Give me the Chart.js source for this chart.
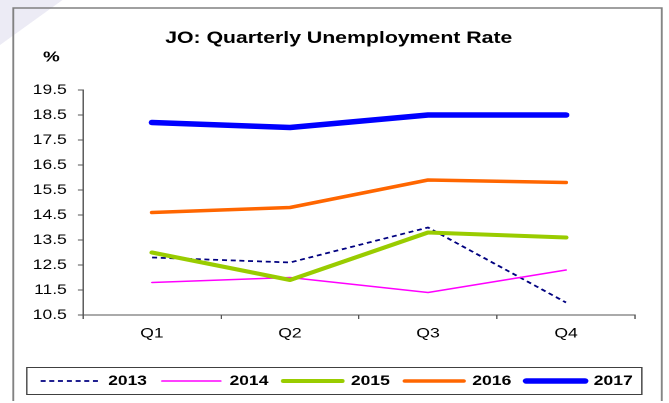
<!DOCTYPE html>
<html><head><meta charset="utf-8">
<script src="https://cdn.jsdelivr.net/npm/chart.js@4"></script>
<style>
html,body{margin:0;padding:0;background:#fff;overflow:hidden;}
#wrap{position:absolute;left:0;top:0;width:535px;height:403px;transform:scaleX(1.25);transform-origin:0 0;}
</style></head><body>
<div id="wrap"><canvas id="c" width="535" height="403"></canvas></div>
<script>
const categories = ['Q1', 'Q2', 'Q3', 'Q4'];
const years = ['2013', '2014', '2015', '2016', '2017'];
const s2013 = [12.8, 12.6, 14.0, 11.0];
const s2014 = [11.8, 12.0, 11.4, 12.3];
const s2015 = [13.0, 11.9, 13.8, 13.6];
const s2016 = [14.6, 14.8, 15.9, 15.8];
const s2017 = [18.2, 18.0, 18.5, 18.5];
const yTicks = [10.5, 11.5, 12.5, 13.5, 14.5, 15.5, 16.5, 17.5, 18.5, 19.5];
const chartTitle = 'JO: Quarterly Unemployment Rate';
const unitLabel = '%';

Chart.defaults.font.family = '"Liberation Sans", Arial, sans-serif';
Chart.defaults.color = '#000';

const deco = {
  id: 'deco',
  afterLayout(chart) {
    for (const b of chart.boxes) {
      if (b === chart.legend) { b.left += 15.3; b.right += 15.3; }
      else if (b.options && b.options.text === chartTitle) { b.left = 34; }
      else if (b.options && b.options.text === unitLabel) { b.left = 34.4; }
    }
  },
  beforeDraw(chart) {
    const ctx = chart.ctx;
    ctx.save();
    ctx.fillStyle = '#ecebf5';
    ctx.beginPath();
    ctx.moveTo(0, 0); ctx.lineTo(50, 0); ctx.lineTo(0, 45); ctx.closePath();
    ctx.fill();
    ctx.restore();
  },
  afterDraw(chart) {
    const ctx = chart.ctx;
    ctx.save();
    ctx.strokeStyle = '#808080';
    ctx.lineWidth = 1.5;
    ctx.beginPath();
    ctx.moveTo(10.6, 401); ctx.lineTo(10.6, 8); ctx.lineTo(529.4, 8); ctx.lineTo(529.4, 401);
    ctx.stroke();
    const hb = chart.legend.legendHitBoxes;
    if (hb && hb.length) {
      const last = hb[hb.length - 1];
      const l = hb[0].left - 11, r = last.left + last.width + 7;
      const cy = hb[0].top + 7;
      ctx.strokeStyle = '#404040';
      ctx.lineWidth = 1;
      ctx.strokeRect(Math.round(l) + 0.5, Math.round(cy - 14) + 0.5, Math.round(r - l), 27);
    }
    ctx.restore();
  }
};

const seriesValues = [s2013, s2014, s2015, s2016, s2017];
const styles = [
  {borderColor: '#000080', borderWidth: 1.75, borderDash: [4, 3], borderCapStyle: 'butt'},
  {borderColor: '#FF00FF', borderWidth: 1.5, borderCapStyle: 'round'},
  {borderColor: '#99CC00', borderWidth: 4, borderCapStyle: 'round'},
  {borderColor: '#FF6600', borderWidth: 3.5, borderCapStyle: 'round'},
  {borderColor: '#0000FF', borderWidth: 5.5, borderCapStyle: 'round'}
];

const datasets = years.map((y, i) => Object.assign({
  label: y,
  data: seriesValues[i],
  backgroundColor: styles[i].borderColor,
  fill: false,
  tension: 0,
  pointRadius: 0,
  pointHoverRadius: 0,
  borderJoinStyle: 'round',
  order: years.length - 1 - i
}, styles[i]));

new Chart(document.getElementById('c'), {
  type: 'line',
  data: {labels: categories, datasets},
  options: {
    responsive: false,
    animation: false,
    devicePixelRatio: 2,
    layout: {padding: {left: 0, right: 27, top: 0, bottom: 5}},
    plugins: {
      tooltip: {enabled: false},
      title: {display: true, text: chartTitle, font: {size: 17, weight: 'bold'}, color: '#000', padding: {top: 28, bottom: 0}},
      subtitle: {display: true, text: unitLabel, align: 'start', font: {size: 15, weight: 'bold'}, color: '#000', padding: {top: 0, bottom: 23.6}},
      legend: {
        position: 'bottom',
        labels: {
          usePointStyle: true, pointStyle: 'line', pointStyleWidth: 47,
          font: {size: 14, weight: 'bold'}, color: '#000', padding: 12,
          sort: (a, b) => a.datasetIndex - b.datasetIndex,
          generateLabels(chart) {
            const items = Chart.defaults.plugins.legend.labels.generateLabels(chart);
            items.forEach(it => {
              const ds = chart.data.datasets[it.datasetIndex];
              it.lineDash = ds.borderDash || [];
              it.lineWidth = ds.borderWidth;
              it.strokeStyle = ds.borderColor;
              it.lineCap = ds.borderCapStyle || 'butt';
              it.pointStyle = 'line';
            });
            return items;
          }
        }
      }
    },
    scales: {
      x: {
        offset: true,
        grid: {offset: true, drawOnChartArea: false, drawTicks: true, tickLength: 4, color: '#555'},
        border: {display: true, color: '#555', width: 1},
        ticks: {font: {size: 14}, color: '#000', padding: 6, maxRotation: 0},
        afterFit(s) { s.height = 47; }
      },
      y: {
        min: 10.5, max: 19.5,
        afterBuildTicks(s) { s.ticks = yTicks.map(v => ({value: v})); },
        grid: {drawOnChartArea: false, drawTicks: true, tickLength: 4, color: '#555'},
        border: {display: true, color: '#555', width: 1},
        ticks: {font: {size: 14}, color: '#000', padding: 9, callback: v => Number(v).toFixed(1)},
        afterFit(s) { s.width = 66.4; }
      }
    }
  },
  plugins: [deco]
});
</script>
</body></html>
